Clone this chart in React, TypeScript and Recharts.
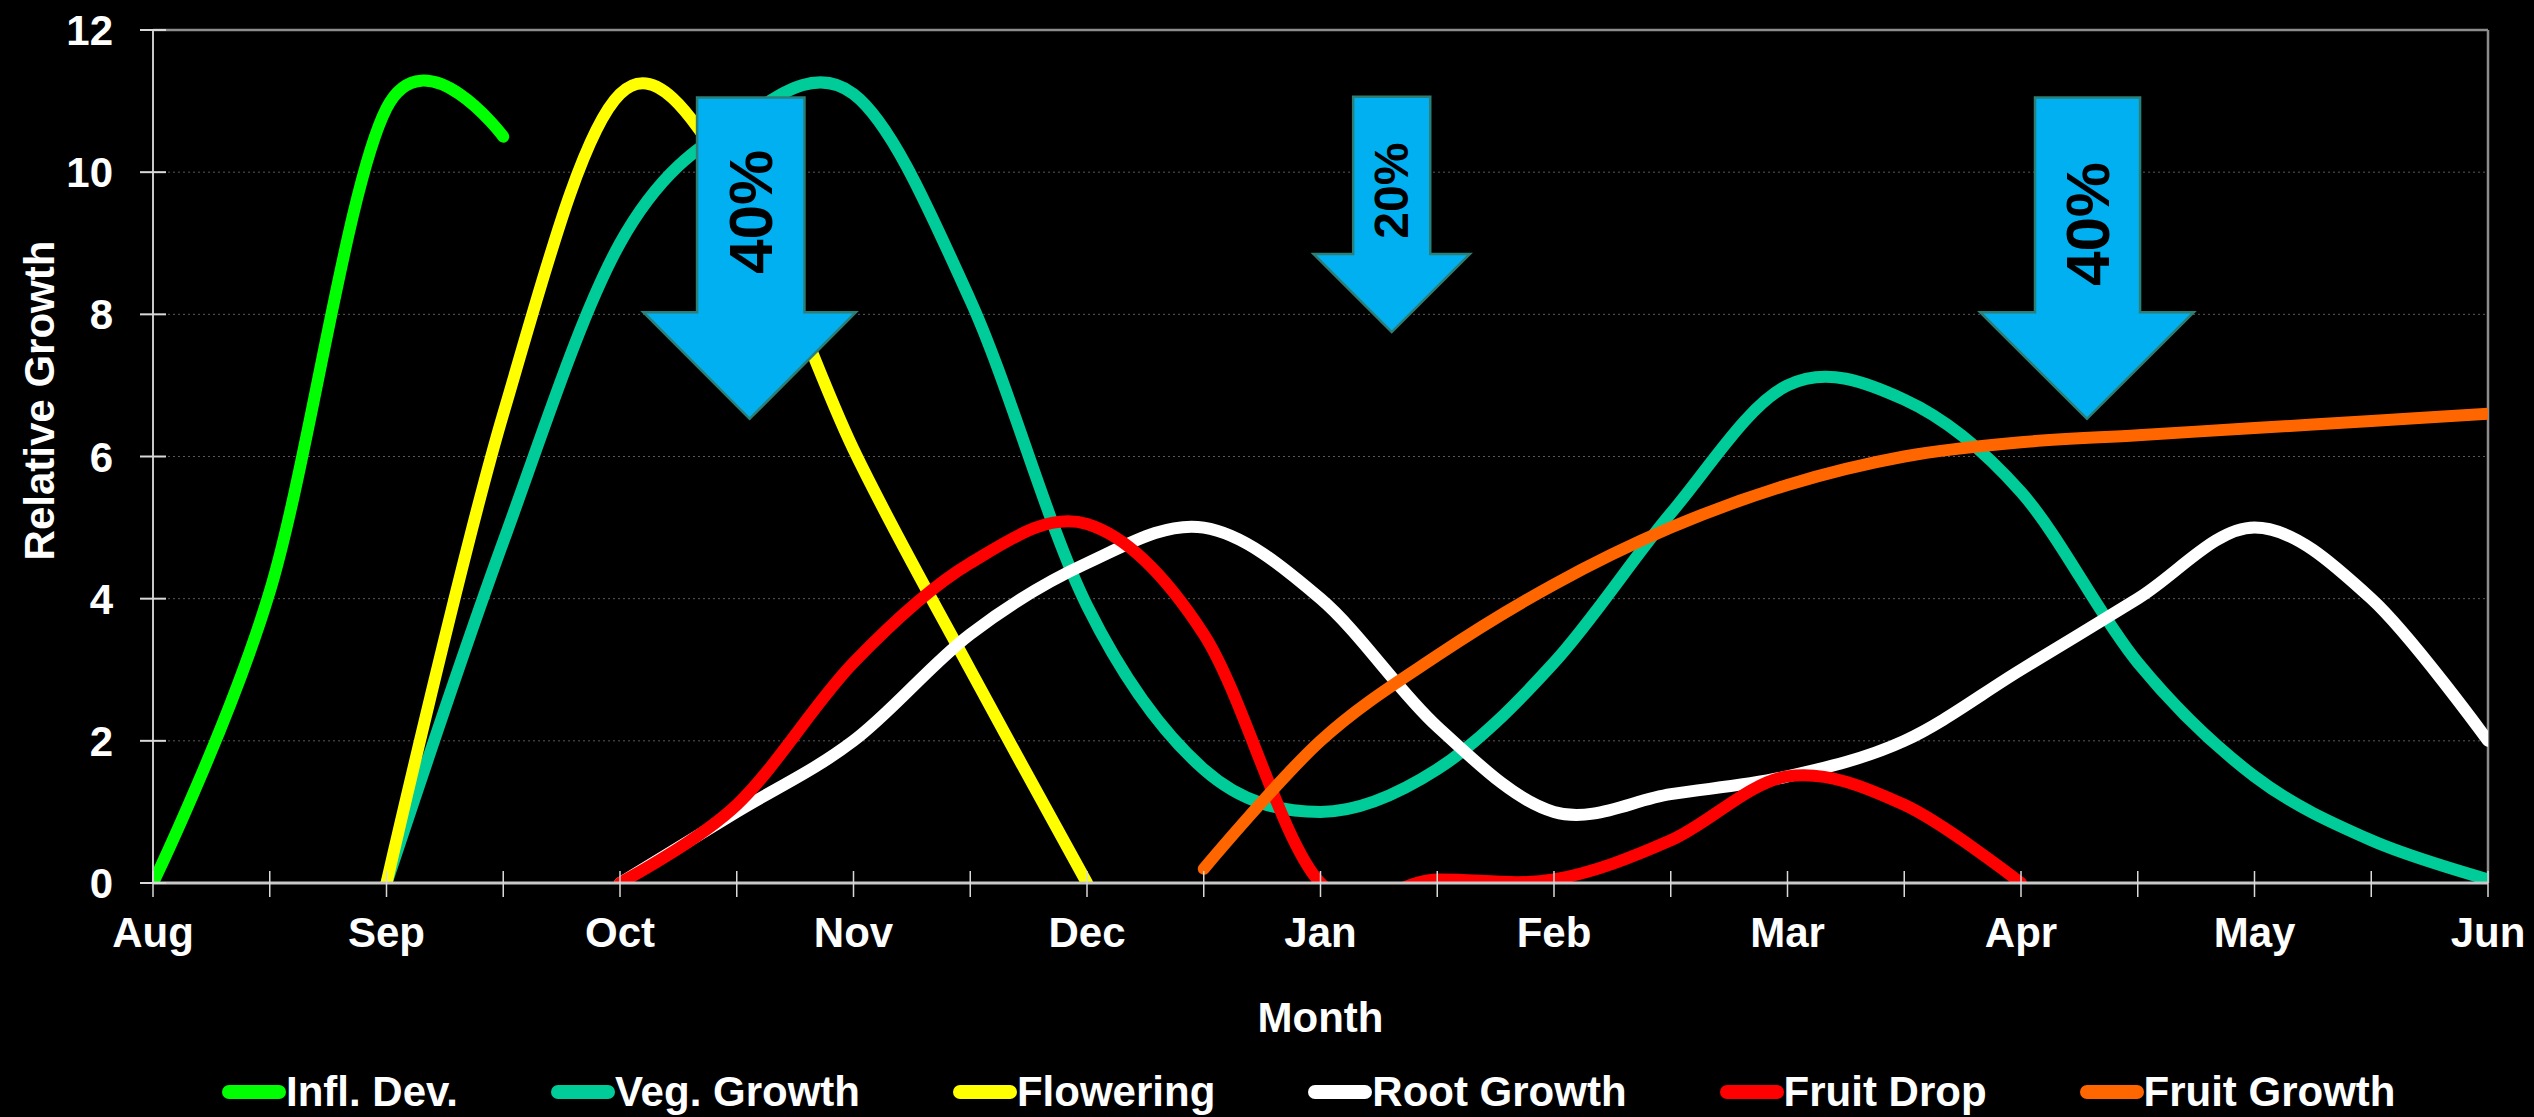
import React from 'react';
import {
  LineChart,
  Line,
  XAxis,
  YAxis,
  CartesianGrid,
  ReferenceArea,
  ReferenceLine,
  Legend,
} from 'recharts';

// ---------- data ----------
const months = ['Aug', 'Sep', 'Oct', 'Nov', 'Dec', 'Jan', 'Feb', 'Mar', 'Apr', 'May', 'Jun'];
const xTicks = [0, 0.5, 1, 1.5, 2, 2.5, 3, 3.5, 4, 4.5, 5, 5.5, 6, 6.5, 7, 7.5, 8, 8.5, 9, 9.5, 10];
const yTicks = [0, 2, 4, 6, 8, 10, 12];

// values every half month, starting at the given month index (Aug = 0)
const inflDevStart = 0;
const inflDev = [0, 4.1, 10.9, 10.5];
const vegGrowthStart = 1;
const vegGrowth = [0, 4.8, 9.0, 10.7, 11.1, 8.2, 3.9, 1.6, 1.0, 1.6, 3.1, 5.2, 7.0, 6.8, 5.5, 3.1, 1.5, 0.6, 0.05];
const floweringStart = 1;
const flowering = [0, 6.6, 11.1, 9.8, 6.1, 3.0, 0];
const rootGrowthStart = 2;
const rootGrowth = [0, 1.0, 2.0, 3.5, 4.5, 5.0, 4.0, 2.2, 1.0, 1.25, 1.5, 2.0, 3.0, 4.0, 5.0, 4.0, 2.0];
const fruitDropStart = 2;
const fruitDrop = [0, 1.1, 3.1, 4.5, 5.05, 3.5, 0, 0.05, 0.05, 0.6, 1.5, 1.1, 0];
const fruitGrowthStart = 4.5;
const fruitGrowth = [0.2, 2.0, 3.2, 4.2, 5.0, 5.6, 6.0, 6.2, 6.3, 6.4, 6.5, 6.6];

const seriesNames = ['Infl. Dev.', 'Veg. Growth', 'Flowering', 'Root Growth', 'Fruit Drop', 'Fruit Growth'];

// crop-load arrows (annotations), in chart units
const arrowLabels = ['40%', '20%', '40%'];
const arrowHeadLeft = [2.1, 4.97, 7.825];
const arrowHeadRight = [3.01, 5.64, 8.74];
const arrowBodyLeft = [2.33, 5.14, 8.06];
const arrowBodyRight = [2.79, 5.47, 8.51];
const arrowTop = [11.05, 11.06, 11.05];
const arrowNeck = [8.03, 8.85, 8.03];
const arrowTip = [6.53, 7.75, 6.53];
const arrowTextAt = [9.44, 9.74, 9.27];

// ---------- styles ----------
const FONT = "'Liberation Sans', Arial, Helvetica, sans-serif";
const colors = ['#00FF00', '#00CC99', '#FFFF00', '#FFFFFF', '#FF0000', '#FF6600'];
const arrowFontSizes = [62, 48, 62];
const W = 2534;
const H = 1117;

const toPoints = (start: number, values: number[]) =>
  values.map((v, i) => ({ x: start + i * 0.5, v }));

const seriesData = [
  toPoints(inflDevStart, inflDev),
  toPoints(vegGrowthStart, vegGrowth),
  toPoints(floweringStart, flowering),
  toPoints(rootGrowthStart, rootGrowth),
  toPoints(fruitDropStart, fruitDrop),
  toPoints(fruitGrowthStart, fruitGrowth),
];

// Cardinal (Catmull-Rom like) curve, similar to Excel's smoothed lines
function cardinalCurve(context: any) {
  const k = 1 / 6;
  let x0 = NaN, y0 = NaN, x1 = NaN, y1 = NaN, x2 = NaN, y2 = NaN;
  let state = 0;
  let line: number = NaN;
  const seg = (x: number, y: number) => {
    context.bezierCurveTo(
      x1 + k * (x2 - x0),
      y1 + k * (y2 - y0),
      x2 + k * (x1 - x),
      y2 + k * (y1 - y),
      x2,
      y2
    );
  };
  return {
    areaStart() {
      line = 0;
    },
    areaEnd() {
      line = NaN;
    },
    lineStart() {
      x0 = x1 = x2 = y0 = y1 = y2 = NaN;
      state = 0;
    },
    lineEnd() {
      if (state === 2) context.lineTo(x2, y2);
      else if (state === 3) seg(x1, y1);
      if (line || (line !== 0 && state === 1)) context.closePath();
      line = 1 - line;
    },
    point(xIn: number, yIn: number) {
      const x = +xIn;
      const y = +yIn;
      if (state === 0) {
        state = 1;
        if (line) context.lineTo(x, y);
        else context.moveTo(x, y);
      } else if (state === 1) {
        state = 2;
        x1 = x;
        y1 = y;
      } else {
        if (state === 2) state = 3;
        seg(x, y);
      }
      x0 = x1;
      x1 = x2;
      x2 = x;
      y0 = y1;
      y1 = y2;
      y2 = y;
    },
  };
}

const XTick = (props: any) => {
  const { x, y, payload } = props;
  const v = payload.value;
  const isMonth = Math.abs(v - Math.round(v)) < 1e-6;
  return (
    <g>
      <line x1={x} x2={x} y1={y - 12} y2={y + 14} stroke="#d9d9d9" strokeWidth={1.5} />
      {isMonth && (
        <text
          x={x}
          y={y + 64}
          textAnchor="middle"
          fill="#FFFFFF"
          fontSize={42}
          fontWeight="bold"
          fontFamily={FONT}
        >
          {months[Math.round(v)]}
        </text>
      )}
    </g>
  );
};

const YTick = (props: any) => {
  const { x, y, payload } = props;
  return (
    <g>
      <line x1={x - 13} x2={x + 13} y1={y} y2={y} stroke="#d9d9d9" strokeWidth={2} />
      <text
        x={x - 40}
        y={y + 15}
        textAnchor="end"
        fill="#FFFFFF"
        fontSize={42}
        fontWeight="bold"
        fontFamily={FONT}
      >
        {payload.value}
      </text>
    </g>
  );
};

const XTitle = (props: any) => {
  const vb = props.viewBox || { x: 0, y: 0, width: 0, height: 0 };
  return (
    <text
      x={vb.x + vb.width / 2}
      y={vb.y + 149}
      textAnchor="middle"
      fill="#FFFFFF"
      fontSize={42}
      fontWeight="bold"
      fontFamily={FONT}
    >
      Month
    </text>
  );
};

const YTitle = (props: any) => {
  const vb = props.viewBox || { x: 0, y: 0, width: 0, height: 0 };
  const cx = vb.x + 39;
  const cy = vb.y + vb.height / 2 - 56;
  return (
    <text
      x={cx}
      y={cy}
      transform={`rotate(-90 ${cx} ${cy})`}
      textAnchor="middle"
      dominantBaseline="central"
      fill="#FFFFFF"
      fontSize={42}
      fontWeight="bold"
      fontFamily={FONT}
    >
      Relative Growth
    </text>
  );
};

const makeArrowShape = (i: number) => (props: any) => {
  const { x, y, width, height } = props;
  if (![x, y, width, height].every((n) => typeof n === 'number' && isFinite(n))) return null;
  const span = arrowHeadRight[i] - arrowHeadLeft[i];
  const vspan = arrowTop[i] - arrowTip[i];
  const bl = x + (width * (arrowBodyLeft[i] - arrowHeadLeft[i])) / span;
  const br = x + (width * (arrowBodyRight[i] - arrowHeadLeft[i])) / span;
  const neck = y + (height * (arrowTop[i] - arrowNeck[i])) / vspan;
  const tipX = x + width / 2;
  const bottom = y + height;
  const pts = [
    [bl, y],
    [br, y],
    [br, neck],
    [x + width, neck],
    [tipX, bottom],
    [x, neck],
    [bl, neck],
  ]
    .map((p) => p.join(','))
    .join(' ');
  const tx = (bl + br) / 2;
  const ty = y + (height * (arrowTop[i] - arrowTextAt[i])) / vspan;
  return (
    <g>
      <polygon points={pts} fill="#00B0F0" stroke="#2B7F77" strokeWidth={2.5} strokeLinejoin="miter" />
      <text
        x={tx}
        y={ty}
        transform={`rotate(-90 ${tx} ${ty})`}
        textAnchor="middle"
        dominantBaseline="central"
        fill="#000000"
        fontSize={arrowFontSizes[i]}
        fontWeight="bold"
        fontFamily={FONT}
      >
        {arrowLabels[i]}
      </text>
    </g>
  );
};

const LegendRow = () => (
  <div
    style={{
      display: 'flex',
      flexDirection: 'row',
      alignItems: 'center',
      paddingLeft: 222,
      height: 48,
    }}
  >
    {seriesNames.map((name, i) => (
      <div
        key={name}
        style={{
          display: 'flex',
          alignItems: 'center',
          marginRight: i < seriesNames.length - 1 ? 93 : 0,
        }}
      >
        <svg width={64} height={48} style={{ display: 'block' }}>
          <line x1={7} x2={57} y1={24} y2={24} stroke={colors[i]} strokeWidth={14} strokeLinecap="round" />
        </svg>
        <span
          style={{
            color: '#FFFFFF',
            fontFamily: FONT,
            fontWeight: 'bold',
            fontSize: 42,
            lineHeight: '48px',
            whiteSpace: 'nowrap',
          }}
        >
          {name}
        </span>
      </div>
    ))}
  </div>
);

export default function App() {
  return (
    <div
      style={{
        position: 'fixed',
        left: 0,
        top: 0,
        width: W,
        height: H,
        background: '#000000',
        overflow: 'hidden',
      }}
    >
      <LineChart width={W} height={H} margin={{ top: 30, right: 46, bottom: 0, left: 0 }}>
        <CartesianGrid horizontal vertical={false} stroke="#595959" strokeDasharray="2 3" />
        <XAxis
          type="number"
          dataKey="x"
          domain={[0, 10]}
          ticks={xTicks}
          interval={0}
          allowDataOverflow
          height={234}
          tickSize={0}
          tickMargin={0}
          tickLine={false}
          tick={<XTick />}
          axisLine={{ stroke: '#c8c8c8', strokeWidth: 3 }}
          label={<XTitle />}
        />
        <YAxis
          type="number"
          domain={[0, 12]}
          ticks={yTicks}
          interval={0}
          allowDataOverflow
          width={153}
          tickSize={0}
          tickMargin={0}
          tickLine={false}
          tick={<YTick />}
          axisLine={{ stroke: '#c8c8c8', strokeWidth: 2 }}
          label={<YTitle />}
        />
        <ReferenceLine y={12} stroke="#8c8c8c" strokeWidth={2.5} />
        <ReferenceLine x={10} stroke="#8c8c8c" strokeWidth={2.5} />
        {seriesData.map((d, i) => (
          <Line
            key={seriesNames[i]}
            data={d}
            dataKey="v"
            name={seriesNames[i]}
            type={cardinalCurve as any}
            stroke={colors[i]}
            strokeWidth={12}
            strokeLinecap="round"
            strokeLinejoin="round"
            dot={false}
            activeDot={false}
            isAnimationActive={false}
          />
        ))}
        {arrowLabels.map((lab, i) => (
          <ReferenceArea
            key={'arrow' + i}
            x1={arrowHeadLeft[i]}
            x2={arrowHeadRight[i]}
            y1={arrowTip[i]}
            y2={arrowTop[i]}
            ifOverflow="visible"
            shape={makeArrowShape(i)}
            {...({ zIndex: 1500 } as any)}
          />
        ))}
        <Legend
          verticalAlign="middle"
          align="center"
          layout="horizontal"
          wrapperStyle={{ left: 0, top: 1068, width: W, height: 48 }}
          content={() => <LegendRow />}
        />
      </LineChart>
    </div>
  );
}
